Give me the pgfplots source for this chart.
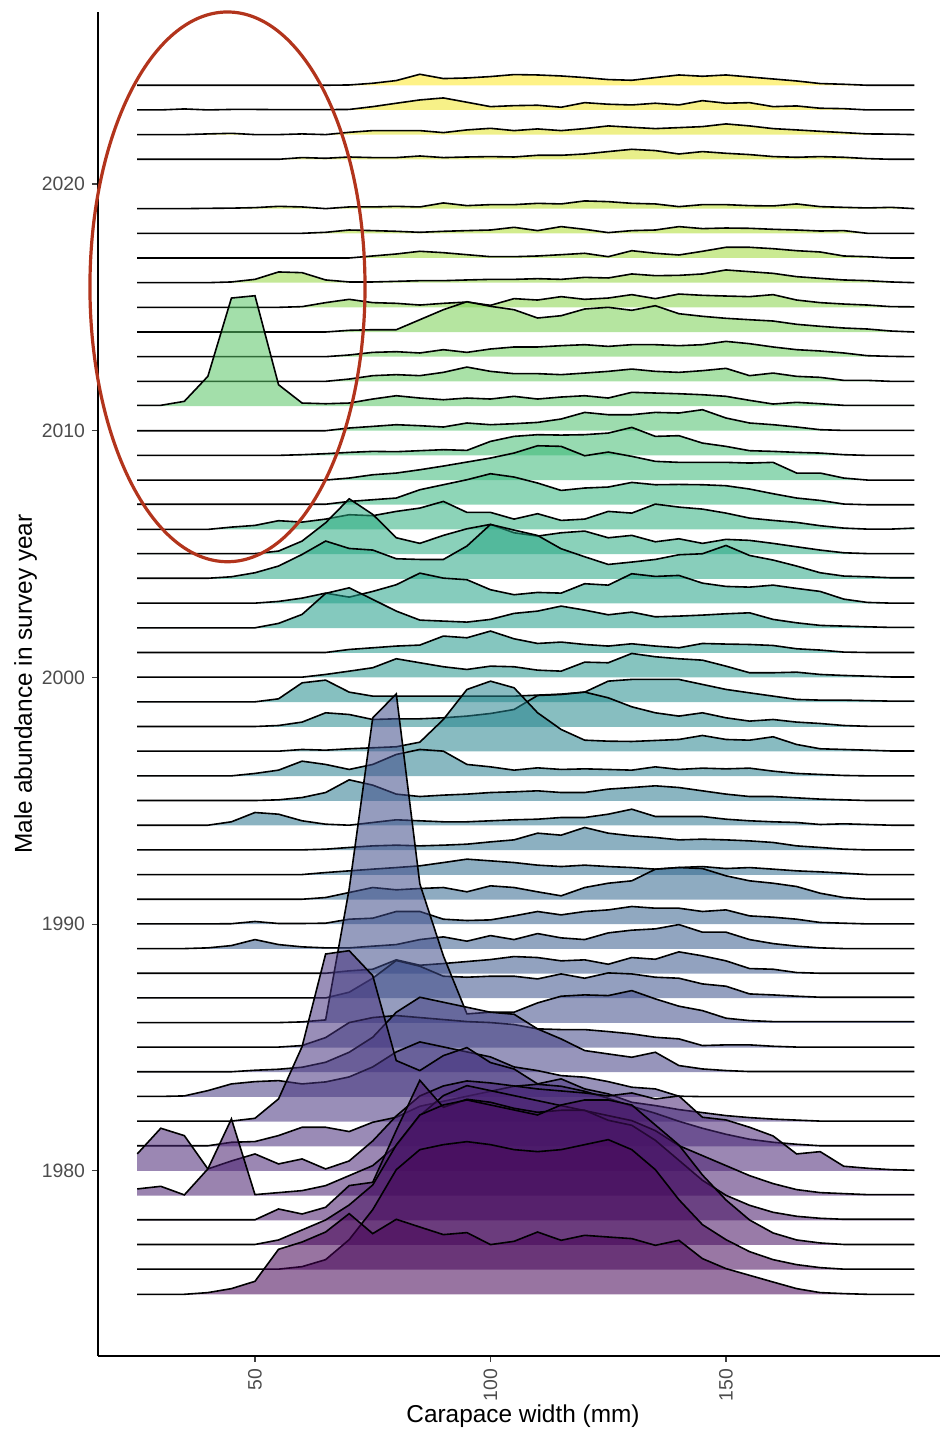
\documentclass[border=0pt]{standalone}
\usepackage{fontspec}
\setmainfont{Liberation Sans}
\usepackage{pgfplots}
\usepackage{pgfplotstable}
\pgfplotsset{compat=1.18}

\definecolor{v0}{HTML}{440154}
\definecolor{v1}{HTML}{482878}
\definecolor{v2}{HTML}{3E4A89}
\definecolor{v3}{HTML}{31688E}
\definecolor{v4}{HTML}{26828E}
\definecolor{v5}{HTML}{1F9E89}
\definecolor{v6}{HTML}{35B779}
\definecolor{v7}{HTML}{6DCD59}
\definecolor{v8}{HTML}{B4DE2C}
\definecolor{v9}{HTML}{FDE725}
\definecolor{ellcol}{RGB}{178,52,28}
\foreach \yr in {1975,...,2024}{%
  \pgfmathsetmacro{\vt}{(\yr-1975)/49*9}%
  \pgfmathtruncatemacro{\vk}{min(floor(\vt),8)}%
  \pgfmathtruncatemacro{\vkk}{\vk+1}%
  \pgfmathtruncatemacro{\vp}{round((\vt-\vk)*100)}%
  \xglobal\colorlet{r\yr}{v\vkk!\vp!v\vk}%
}

% heights of each ridge above its baseline (pixel units of the reference, 24.675 px = 1 year)
\pgfplotstableread{
year 25 30 35 40 45 50 55 60 65 70 75 80 85 90 95 100 105 110 115 120 125 130 135 140 145 150 155 160 165 170 175 180 185 190
1975 0 0 0 1.7 5.7 13 45 52.3 62.3 80.7 60.7 75 67.3 59.7 61.7 49.7 53 62.3 54 59 57.3 55.7 49 54 35.7 25.7 19 12.3 5.7 1.7 0.7 0 0 0
1976 0.5 0.5 0.5 0.5 0.5 0.5 0.5 3 10 30 60 100 120 125 128 125 120 118 120 125 130 120 100 70 45 30 18 10 5 2 0.5 0.5 0.5 0.5
1977 0.5 0.5 0.5 0.5 0.5 0.5 5 15 25 40 60 100 130 140 145 140 135 130 140 145 145 140 120 100 70 45 25 12 5 2 0.5 0.5 0.5 0.5
1978 0.5 0.5 0.5 0.5 0.5 0.5 11.3 6.3 13 34.7 38 90 140 113 121 118 112 108 110 110 100 95 80 60 40 25 15 8 4 2 1 1 1 1
1979 6.7 9.3 0.7 26.7 76.7 1 3 5 10 20 30 50 80 100 110 105 100 95 90 85 80 75 65 50 40 30 20 12 6 3 2 1 1 1
1980 17 42.7 35.3 2 10 17 7 12 2 10 30 55 75 85 90 88 85 82 80 78 75 78 72 75 53.7 51 43.7 35 17 19.3 4.7 2.7 1.3 0.7
1981 0.5 0.5 0.5 0.5 4 4.7 10.7 19 19 14.7 24 29 40 45 50 55 60 62 60 55 48 40 33 25 18 12 7 4 2 0.5 0.5 0.5 0.5 0.5
1982 0.5 0.5 0.5 0.5 0.5 3.3 22.7 75 167.6 170.9 146 61 51 66 74 59 52.6 37.7 42.7 32.7 27.7 19.3 16 12 9 6 4 2.5 1.5 0.5 0.5 0.5 0.5 0.5
1983 0.5 0.5 1 6.3 13 15.3 16.3 13 15 20 30 45 55 50 45 40 30 26.3 21.3 19.7 15.3 9.7 8 0.7 0.3 0.3 0.3 0.3 0.3 0.3 0.3 0.3 0.3 0.3
1984 0.5 0.5 0.5 0.5 0.5 2 3 5 10 20 35 60 75 70 65 60 58 43.3 33.3 21.7 18.3 15 20 6.7 3.3 1.7 0.7 0.7 0.7 0.7 0.7 0.7 0.7 0.7
1985 0.5 0.5 0.5 0.5 0.5 0.5 0.5 2 10 25 30 32 30 28 26 25 23 18.7 18 18 16 13.7 10.3 8.7 2 2.7 2.7 1.3 0.5 0.5 0.5 0.5 0.5 0.5
1986 0.3 0.3 0.3 0.3 0.3 0.3 0.3 1 3 134 305 329 139 67 9 10.7 10.7 20 26.7 28 27.3 32.3 24 16.7 12.3 4.7 2.3 1.3 1.3 1.3 1.3 1.3 1.3 1.3
1987 0.3 0.3 0.3 0.3 0.3 0.3 0.3 0.3 0.3 6 20 37.7 32 22 21 22 22 19.3 24.3 20 25.3 24.3 21 20 14.3 12 4.3 3.3 2 1 1 1 1 1
1988 0.3 0.3 0.3 0.3 0.3 0.3 0.3 0.3 0.3 2.7 4.3 13.7 8.3 10 12 14 17 16 12.7 13.7 9.3 16 14.3 21.7 17.7 12.7 5 4.3 1 0.3 0.3 0.3 0.3 0.3
1989 0.3 0.3 0.3 1 3.3 9.3 4.3 2 1 1 2.7 4.3 9.3 12 7.7 13.3 9.3 15.3 11 9.3 16 18.7 20 24.3 16.7 16.7 9.3 5.3 2.7 1 0.3 0.3 0.3 0.3
1990 0.3 0.3 0.3 0.3 0.5 2.7 0.7 0.7 1 5 6 12.7 12.7 5 3.7 4.3 8.3 12.7 9.3 12.7 14.3 17.7 16 16 12.7 14.3 8.3 7 5 1.7 1 0.3 0.3 0.3
1991 0.3 0.3 0.3 0.3 0.3 0.3 0.3 0.3 2 7 12 9.7 11 12 7.7 13.7 12 7.7 3.7 12 16.3 18.7 30.3 32 31 23.7 18.7 16.3 13 6.3 2 0.3 0.3 0.3
1992 0.3 0.3 0.3 0.3 0.3 0.3 0.3 0.3 2.3 4 5.7 7.3 9 12.3 15.7 14 12.3 9.7 8.3 9.7 8.3 7.3 5.7 7.3 8.3 6.3 7.3 5.7 4 3 1.7 0.3 0.3 0.3
1993 0.3 0.3 0.3 0.3 0.3 0.3 0.3 0.3 1 2.7 4.3 5 4.3 5 6 8.3 10.3 17 15 22.7 17 14.3 12.7 10.3 11 10.3 9.3 7.7 4.3 2.7 1 0.3 0.3 0.3
1994 0.3 0.3 0.3 0.3 3.7 13 11.3 4.7 1.3 0.3 3 5.7 4.7 3.7 3.7 4.7 5.7 6.3 8 8 11.3 16.3 9 9 9 6.3 4.7 3.7 3 1 1.7 1 0.3 0.3
1995 0.3 0.3 0.3 0.3 0.3 0.3 1 3.3 8.3 21 15.7 6.7 4.3 5.7 6.7 8.3 9 10 8.3 8.3 11.7 13.3 15 13.3 10 6.7 4.3 4.3 3 1.7 1 0.3 0.3 0.3
1996 0.3 0.3 0.3 0.3 0.3 2.7 6 15 11.7 6.7 11.7 21.7 26.7 25 11.7 9.3 6 8.3 6.7 7.3 6.7 6 9.3 6.7 8 7.3 8 5 2.7 1.7 0.7 0.3 0.3 0.3
1997 0.3 0.3 0.3 0.3 0.3 0.3 0.3 2 1.3 2.7 3.7 4.7 9.3 32 62 70.3 63.7 38.7 22 11.3 10.3 10 11 12 16 12 11.3 14.7 7 2.7 2 1.3 0.5 0.5
1998 0.3 0.3 0.3 0.3 0.3 0.3 1.3 4.7 14 12.3 7.3 8 8 9 10.7 13.3 17.3 31.3 32.3 34.7 29 20 14 10.7 14 9 5.7 7.3 4.7 3.3 1.3 0.5 0.5 0.5
1999 0.3 0.3 0.3 0.3 0.3 0.3 3.3 19.3 22 10 6 6 6 6 6 6 6 7 8 10 21 22.7 22.7 22.7 17.7 12.7 9.3 6 2.7 2 2 1.5 1 1
2000 0.3 0.3 0.3 0.3 0.3 0.3 0.3 0.3 3 6.3 9.7 18.7 14.7 10.7 8 11.3 10.7 7.3 6.3 15.3 14.7 24 20.7 18.7 17.3 11.3 4.7 4.7 5.3 3 2 1.3 0.5 0.5
2001 0.3 0.3 0.3 0.3 0.3 0.3 0.3 0.3 0.3 3.3 5 6.7 7.7 16.7 15 21.7 14 9.3 10.7 8.3 6.7 9 6.7 5 9.3 8.7 8.3 7.3 4 2.7 0.7 0.3 0.3 0.3
2002 0.3 0.3 0.3 0.3 0.3 0.3 4.7 13.7 34.7 40.3 28.7 17 8 7 6 8.7 14.7 17 22 18 13.3 16 11.3 12 13 14.3 15.3 8.7 5.3 2.7 2 1.3 0.7 0.7
2003 0.3 0.3 0.3 0.3 0.3 0.3 2 5.3 10.3 6.3 12 18.7 30.3 25.3 23.7 13.7 8.7 11 10.3 19.7 18.3 29.7 27 28 20.3 17 16.3 18.3 15 12 4.3 1 0.3 0.3
2004 0.5 0.5 0.5 0.5 2 6 12.7 24.3 37.7 30.3 28.7 20 19.3 19.3 32.7 54.3 48.7 43.3 30 22 14.3 16.7 19.3 24 25 33.3 23.3 18.7 12.7 6 2.7 2 1 1
2005 0.5 0.5 0.5 0.5 0.5 0.5 3 13 31.3 55.3 39.7 16.3 10.7 18.7 25.3 29.7 21.3 18 21.3 23 16.3 18.7 12.3 15.3 10.7 14.7 13.7 10.7 7.3 4 1.3 0.5 0.5 0.5
2006 0 0 0 0 2.3 4 8.7 7.3 10.3 14.7 13.7 18 21.3 28 17 17 10.3 15.7 9 10.3 18 16.3 25.3 22.3 20.3 16.3 11.3 9 7 3.7 1.3 0.3 0.3 1.3
2007 0.5 0.5 0.5 0.5 0.5 0.5 0.5 0.5 0.5 3.3 5 6.7 15 20 25 31 27.7 21.7 14.3 16.7 17.7 22.3 20 20.3 20 19 15.7 11 6.7 4.3 0.7 0 0 0
2008 0 0 0 0 0 0 0 0 0 2 5.3 7 10.3 14 18 22 27 34.3 33.7 24.3 28 23.7 18.7 17.7 17.7 17.7 17 17.7 7 7 2 0 0 0
2009 0 0 0 0 0 0 0 0.7 1.7 3 4 3.7 4.7 5.7 5 14 19 20.7 20.3 20.7 22.3 28 19 19.7 12.3 9 4.7 4 3 2.3 0.7 0 0 0
2010 0 0 0 0 0 0 0 0 0 2.7 4.3 6 5 3.7 7.7 6 7 8.3 11.7 18.3 16 16 18.3 17.7 21 12.7 7.7 6 3.7 1 0.3 0.3 0.3 0.3
2011 0.7 0.7 4.7 29.7 108 110.3 21.3 3 2.3 3 7 10.3 8 6.3 8 7 9.7 7 9 10.3 8 13.7 13 12.3 11.3 9.7 5.7 2 3.7 2.3 0.7 0.7 0.7 0.7
2012 0 0 0 0 0 0 0 0 0 2.3 5.7 6.7 5.7 9 14.3 10 7.7 7.7 6.7 8.3 10 12.3 10 9 10.7 13 5.7 8.3 5 4 1 1 0 0
2013 0 0 0 0 0 0 0 0 0 1.7 4.3 5 3.7 7 4.3 7.7 9.7 9.7 11 12 10.3 12 12 11 12 15.3 13 9.7 7 5.7 3.7 1 0.3 0
2014 0 0 0 0 0 0 0 0 0 1.7 2.3 2.3 12.3 22.3 30.3 25.7 22.3 14 16.3 23 24.7 21.7 26.3 18.3 15.7 13.7 12.3 11 7.7 5.7 4 3 1 0
2015 0 0 0 0 0 0 0 0.7 4.7 8 4.7 4 2.3 4 5.3 2 8.7 7.3 10.7 8 9.3 12.7 8.7 13.3 12 11.3 10.7 12.7 7.3 4.7 3.3 2.3 0.7 0.5
2016 0 0 0 0 0.7 3.3 10.7 10 2.7 0.7 0.7 1.3 2 2 2.7 3.3 3.3 4 3.3 5.3 4.7 8.7 7 7.3 8.7 12.7 11 9.3 6 4.3 2.7 2 0.7 0
2017 0 0 0 0 0 0 0 0 0 0 2 4 6.7 5.3 3.3 1.3 1.3 2 3.3 4.7 1.3 7.3 4.7 3 6.7 10.7 10.7 9.3 7.3 6 2 1.3 0 0
2018 0 0 0 0 0 0 0 0 1 3.3 2.7 2 1 2 2.7 3.3 6 2.7 6.7 4 0.7 2.7 3.3 6.7 4.7 5.3 5 4 3.3 2.3 2.7 0 0 0
2019 0 0 0 0.3 0.5 1 2.3 1.7 0 1.7 1.7 2.3 1.7 5.7 3 4 4 5.3 4.7 7.7 7 5.3 4.7 2 4 4 3 2.7 4.7 2 1.3 0.7 1.3 0
2021 0 0 0 0 0 0 0 1.7 1 2.3 1.7 1.7 3.3 1.7 2.3 2.7 2.3 4 4 5.3 7.7 10 8.7 5.3 7.7 6 4.7 2.7 2 2.7 2 0.7 0 0
2022 0 0 0 0.7 1.3 0 0 0.7 0 2.3 4 4 4 2 4.7 6.3 4 5.7 4 6 8.7 7.3 6 7 8 10.7 8.7 6 4.7 3.3 2 0.7 0.5 0
2023 0 0 1 0 0.5 0.5 0.3 0.3 0.3 0.5 3.3 6.7 10 12 7.7 3.3 4.3 4.7 2.7 7.3 5.7 5 6.7 5 9.3 6.7 7.3 3.3 4 1.7 1.3 0 0 0
2024 0 0 0 0 0 0 0 0 0 0.3 2 4.7 11 6.7 7.3 8.7 10.7 10.3 9.3 7.7 5.7 5 7.7 10.3 9 10.3 8.3 6.3 4.3 1.7 1 0 0 0
}\widetab
\pgfplotstabletranspose[colnames from=year]\ridgetab{\widetab}

\newcommand{\ridge}[1]{%
  \addplot[draw=none, fill=r#1, fill opacity=0.55, forget plot]
    table[x=colnames, y expr={#1+\thisrow{#1}/24.675}]{\ridgetab}
    -- (axis cs:190,#1) -- (axis cs:25,#1) -- cycle;
  \addplot[black, line width=0.8pt, forget plot]
    table[x=colnames, y expr={#1+\thisrow{#1}/24.675}]{\ridgetab};
}

\begin{document}
\begin{tikzpicture}
\begin{axis}[
  scale only axis, width=421pt, height=672pt,
  xmin=16.67, xmax=195.44, ymin=1972.50, ymax=2026.97,
  axis x line*=bottom, axis y line*=left,
  every outer x axis line/.append style={-},
  every outer y axis line/.append style={-},
  every inner x axis line/.append style={-},
  every inner y axis line/.append style={-},
  axis line style={black, line width=0.55pt},
  xtick={50,100,150}, ytick={1980,1990,2000,2010,2020},
  tick align=outside, major tick length=3pt,
  tick style={black!75, line width=0.55pt},
  /pgf/number format/assume math mode=true,
  /pgf/number format/1000 sep={},
  xticklabel style={rotate=90, anchor=east, font=\fontsize{9.7}{11}\selectfont, text=black!70},
  yticklabel style={font=\fontsize{9.7}{11}\selectfont, text=black!70},
  clip=false,
]
\ridge{2024}\ridge{2023}\ridge{2022}\ridge{2021}
\ridge{2019}\ridge{2018}\ridge{2017}\ridge{2016}\ridge{2015}\ridge{2014}\ridge{2013}\ridge{2012}\ridge{2011}\ridge{2010}
\ridge{2009}\ridge{2008}\ridge{2007}\ridge{2006}\ridge{2005}\ridge{2004}\ridge{2003}\ridge{2002}\ridge{2001}\ridge{2000}
\ridge{1999}\ridge{1998}\ridge{1997}\ridge{1996}\ridge{1995}\ridge{1994}\ridge{1993}\ridge{1992}\ridge{1991}\ridge{1990}
\ridge{1989}\ridge{1988}\ridge{1987}\ridge{1986}\ridge{1985}\ridge{1984}\ridge{1983}\ridge{1982}\ridge{1981}\ridge{1980}
\ridge{1979}\ridge{1978}\ridge{1977}\ridge{1976}\ridge{1975}
\draw[ellcol, line width=1.6pt] (axis cs:44.16,2015.83) ellipse [x radius=29.2, y radius=11.14];
\coordinate (BL) at (rel axis cs:0,0);
\coordinate (TR) at (rel axis cs:1,1);
\coordinate (XM) at (rel axis cs:0.5,0);
\coordinate (YM) at (rel axis cs:0,0.5);
\end{axis}
\node[anchor=base, font=\fontsize{12.2}{14}\selectfont] at ([xshift=2pt,yshift=-33.2pt]XM) {Carapace width (mm)};
\node[anchor=base, rotate=90, font=\fontsize{12.2}{14}\selectfont] at ([xshift=-33.1pt]YM) {Male abundance in survey year};
\pgfresetboundingbox
\path ([xshift=-49pt,yshift=-38pt]BL) rectangle ([yshift=6pt]TR);
\end{tikzpicture}
\end{document}
